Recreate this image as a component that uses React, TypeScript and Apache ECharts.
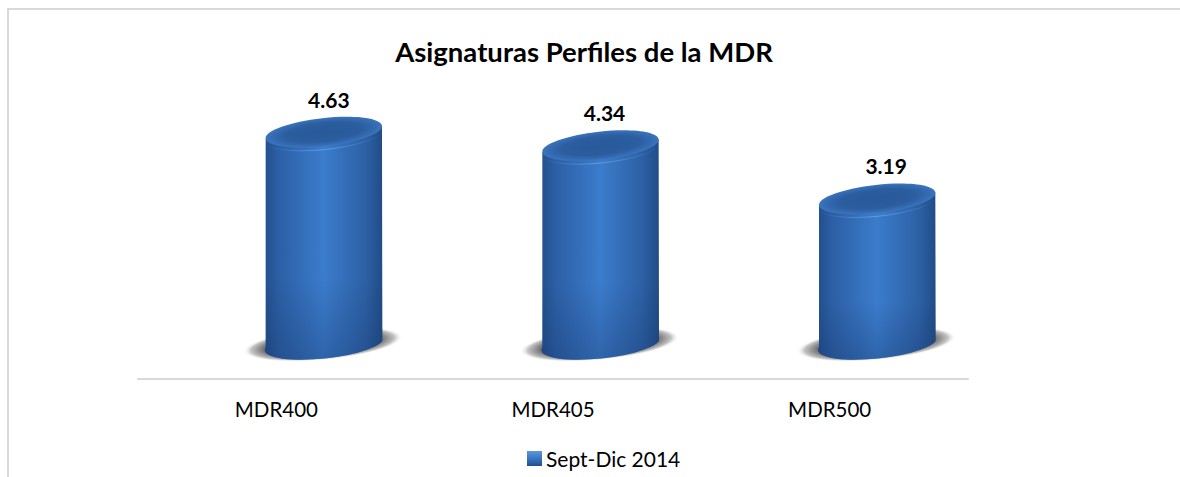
import React, { useEffect, useRef } from "react";
import * as echarts from "echarts";

const categories = ["MDR400", "MDR405", "MDR500"];
const values = [4.63, 4.34, 3.19];
const seriesName = "Sept-Dic 2014";
const titleText = "Asignaturas Perfiles de la MDR";

const FONT = "Lato, Carlito, Calibri, sans-serif";

function grad(x2: number, y2: number, stops: [number, string][]) {
  return {
    type: "linear", x: 0, y: 0, x2, y2, global: false,
    colorStops: stops.map(([offset, color]) => ({ offset, color })),
  };
}
function radial(stops: [number, string][]) {
  return {
    type: "radial", x: 0.5, y: 0.5, r: 0.5, global: false,
    colorStops: stops.map(([offset, color]) => ({ offset, color })),
  };
}

const LABEL_SHIFT = [5, 4, 9];

function renderCylinder(params: any, api: any) {
  const idx = api.value(0);
  const top = api.coord([idx, api.value(1)]);
  const bottom = api.coord([idx, 0.12]);
  const cx = top[0] + 47.5;
  const rx = 58.5;
  const ry = 14;
  const tiltDeg = 6.2;
  const tilt = (tiltDeg * Math.PI) / 180;
  const dx = rx * Math.cos(tilt);
  const dy = rx * Math.sin(tilt);
  const ty = top[1];
  const by = bottom[1];

  const bodyPath =
    `M ${cx - dx} ${ty + dy} L ${cx - dx} ${by + dy} ` +
    `A ${rx} ${ry} ${-tiltDeg} 0 0 ${cx + dx} ${by - dy} ` +
    `L ${cx + dx} ${ty - dy} Z`;
  const rimPath =
    `M ${cx - dx} ${ty + dy} A ${rx} ${ry} ${-tiltDeg} 0 0 ${cx + dx} ${ty - dy}`;

  return {
    type: "group",
    children: [
      {
        type: "ellipse",
        x: cx - 1,
        y: by + 3,
        rotation: tilt * 0.85,
        shape: { cx: 0, cy: 0, rx: 80, ry: 16 },
        style: {
          fill: radial([
            [0, "#5a5a5a"],
            [0.74, "#747474"],
            [0.9, "#c4c4c4"],
            [1, "rgba(255,255,255,0)"],
          ]),
        },
      },
      {
        type: "path",
        shape: { pathData: bodyPath },
        style: {
          fill: grad(1, 0, [
            [0, "#234f8c"],
            [0.12, "#2c5fa5"],
            [0.5, "#3b7ccc"],
            [0.85, "#2d61a6"],
            [1, "#214d87"],
          ]),
        },
      },
      {
        type: "path",
        shape: { pathData: bodyPath },
        style: {
          fill: grad(0, 1, [
            [0, "rgba(20,50,100,0)"],
            [0.65, "rgba(20,50,100,0)"],
            [1, "rgba(20,50,100,0.32)"],
          ]),
        },
      },
      {
        type: "ellipse",
        x: cx,
        y: ty,
        rotation: tilt,
        shape: { cx: 0, cy: 0, rx, ry },
        style: {
          fill: radial([
            [0, "#28599a"],
            [0.65, "#2b5d9f"],
            [0.9, "#356cb3"],
            [1, "#3d75bc"],
          ]),
        },
      },
      {
        type: "path",
        shape: { pathData: rimPath },
        style: {
          fill: "none",
          lineWidth: 1,
          stroke: grad(1, 0, [
            [0, "rgba(90,150,220,0)"],
            [0.5, "rgba(106,163,230,0.85)"],
            [1, "rgba(90,150,220,0)"],
          ]),
        },
      },
      {
        type: "text",
        x: cx + LABEL_SHIFT[params.dataIndex],
        y: ty - 33,
        style: {
          text: api.value(1).toFixed(2),
          fill: "#000000",
          font: `bold 21px ${FONT}`,
          align: "center",
          verticalAlign: "middle",
        },
      },
    ],
  };
}

export default function App() {
  const ref = useRef<HTMLDivElement>(null);
  useEffect(() => {
    const chart = echarts.init(ref.current!, undefined, { renderer: "svg" });
    chart.setOption({
      animation: false,
      backgroundColor: "#ffffff",
      title: {
        text: titleText,
        left: 579,
        top: 32,
        textAlign: "center",
        textStyle: { fontFamily: FONT, fontWeight: "bold", fontSize: 27.5, color: "#000000" },
      },
      legend: {
        left: 522,
        top: 443,
        itemWidth: 15,
        itemHeight: 15,
        icon: "rect",
        data: [seriesName],
        textStyle: { fontFamily: FONT, fontSize: 21, color: "#000000", padding: [0, 0, 0, -1] },
      },
      grid: { left: 138, right: 212, top: 115, bottom: 98 },
      xAxis: {
        type: "category",
        data: categories,
        axisTick: { show: false },
        axisLine: { onZero: false, lineStyle: { color: "#d9d9d9", width: 2 } },
        axisLabel: { fontFamily: FONT, fontSize: 20.5, color: "#000000", margin: 19 },
      },
      yAxis: { type: "value", min: -0.7, max: 5, show: false },
      series: [
        {
          type: "custom",
          name: seriesName,
          clip: false,
          renderItem: renderCylinder,
          encode: { x: 0, y: 1 },
          itemStyle: {
            color: grad(0, 1, [
              [0, "#5a97dd"],
              [0.5, "#3a75bf"],
              [1, "#1f4e8e"],
            ]),
          },
          data: values.map((v, i) => [i, v]),
        },
      ],
      graphic: [
        {
          type: "polyline",
          silent: true,
          shape: { points: [[8, 477], [8, 9], [1180, 9]] },
          style: { fill: "none", stroke: "#d9d9d9", lineWidth: 2 },
        },
      ],
    });
    return () => chart.dispose();
  }, []);
  return (
    <div
      ref={ref}
      style={{ position: "absolute", left: 0, top: 0, width: 1180, height: 477 }}
    />
  );
}
